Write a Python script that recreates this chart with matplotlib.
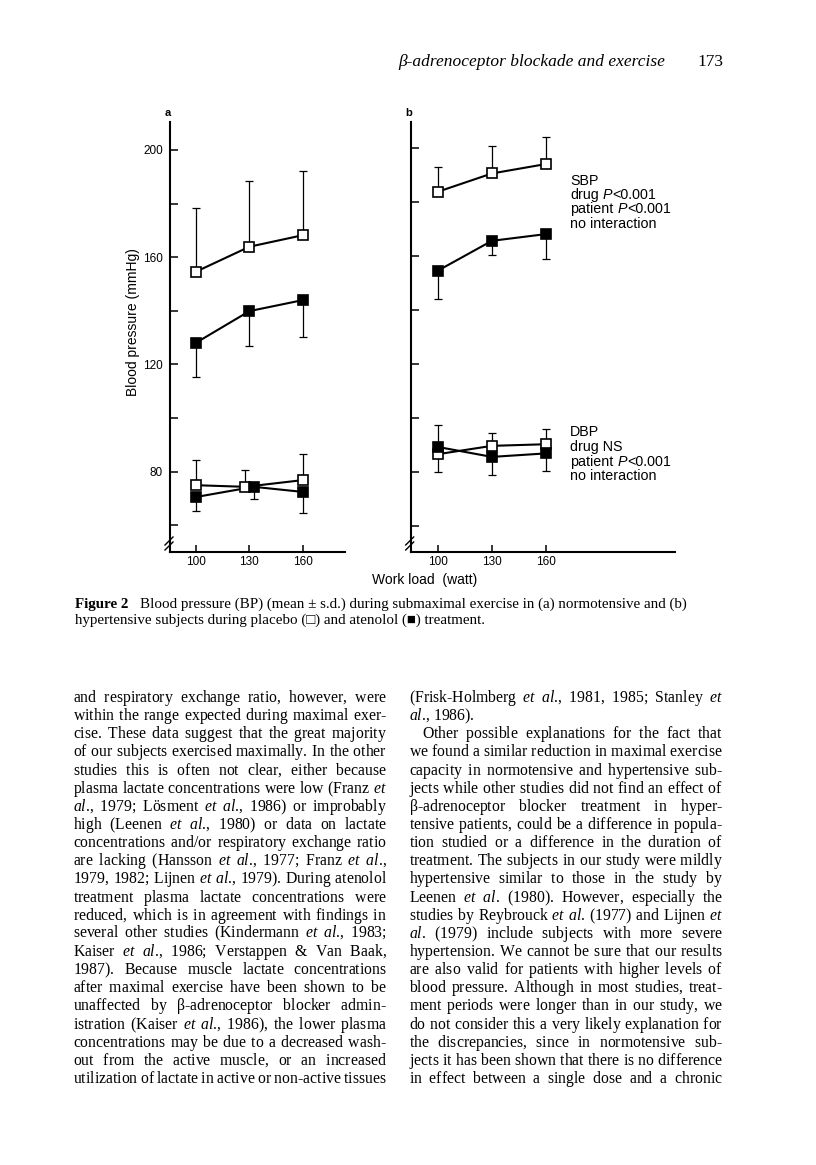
import re
import matplotlib
matplotlib.use("Agg")
import matplotlib.pyplot as plt
from matplotlib.font_manager import FontProperties
from matplotlib.lines import Line2D

plt.rcParams["mathtext.fontset"] = "custom"
plt.rcParams["mathtext.rm"] = "Liberation Serif"
plt.rcParams["mathtext.it"] = "Liberation Serif:italic"
plt.rcParams["mathtext.bf"] = "Liberation Serif:bold"

# ---------------- data ----------------
loads = [100, 130, 160]
zeros = [0, 0, 0]

# panel a: normotensive subjects
a_sbp_placebo = [154.6, 163.9, 168.2]
a_sbp_placebo_sd = [23.9, 24.4, 24.0]
a_sbp_atenolol = [128.1, 139.9, 144.0]
a_sbp_atenolol_sd = [12.7, 13.0, 13.7]
a_dbp_placebo_x = [100, 127.6, 160]
a_dbp_placebo = [75.0, 74.4, 76.9]
a_dbp_placebo_sd = [9.3, 6.2, 9.7]
a_dbp_atenolol_x = [100, 132.4, 160]
a_dbp_atenolol = [70.6, 74.4, 72.5]
a_dbp_atenolol_sd = [5.2, 4.4, 7.7]

# panel b: hypertensive subjects
b_sbp_placebo = [183.9, 190.7, 194.2]
b_sbp_placebo_sd = [9.3, 10.2, 10.1]
b_sbp_atenolol = [154.6, 165.7, 168.2]
b_sbp_atenolol_sd = [10.4, 5.1, 9.3]
b_dbp_placebo = [86.5, 89.6, 90.2]
b_dbp_placebo_sd = [10.9, 4.8, 5.5]
b_dbp_atenolol = [89.2, 85.5, 86.8]
b_dbp_atenolol_sd = [9.4, 6.9, 6.5]

y_ticks = [60, 80, 100, 120, 140, 160, 180, 200]
y_ticklabels_a = ["", "80", "", "120", "", "160", "", "200"]
x_ticklabels = ["100", "130", "160"]

sbp_notes = ["SBP", "drug *P*<0.001", "patient *P*<0.001", "no interaction"]
dbp_notes = ["DBP", "drug NS", "patient *P*<0.001", "no interaction"]

header_title = "β-adrenoceptor blockade and exercise"
page_number = "173"
caption_label = "Figure 2"
caption_line1 = "Blood pressure (BP) (mean ± s.d.) during submaximal exercise in (a) normotensive and (b)"
caption_line2 = "hypertensive subjects during placebo (□) and atenolol (■) treatment."

left_column = [
    "and respiratory exchange ratio, however, were",
    "within the range expected during maximal exer-",
    "cise. These data suggest that the great majority",
    "of our subjects exercised maximally. In the other",
    "studies this is often not clear, either because",
    "plasma lactate concentrations were low (Franz *et*",
    "*al.*, 1979; Lösment *et al.*, 1986) or improbably",
    "high (Leenen *et al.*, 1980) or data on lactate",
    "concentrations and/or respiratory exchange ratio",
    "are lacking (Hansson *et al.*, 1977; Franz *et al.*,",
    "1979, 1982; Lijnen *et al.*, 1979). During atenolol",
    "treatment plasma lactate concentrations were",
    "reduced, which is in agreement with findings in",
    "several other studies (Kindermann *et al.*, 1983;",
    "Kaiser *et al.*, 1986; Verstappen & Van Baak,",
    "1987). Because muscle lactate concentrations",
    "after maximal exercise have been shown to be",
    "unaffected by β-adrenoceptor blocker admin-",
    "istration (Kaiser *et al.*, 1986), the lower plasma",
    "concentrations may be due to a decreased wash-",
    "out from the active muscle, or an increased",
    "utilization of lactate in active or non-active tissues",
]
right_column = [
    "(Frisk-Holmberg *et al.*, 1981, 1985; Stanley *et*",
    "*al.*, 1986).",
    "Other possible explanations for the fact that",
    "we found a similar reduction in maximal exercise",
    "capacity in normotensive and hypertensive sub-",
    "jects while other studies did not find an effect of",
    "β-adrenoceptor blocker treatment in hyper-",
    "tensive patients, could be a difference in popula-",
    "tion studied or a difference in the duration of",
    "treatment. The subjects in our study were mildly",
    "hypertensive similar to those in the study by",
    "Leenen *et al.* (1980). However, especially the",
    "studies by Reybrouck *et al.* (1977) and Lijnen *et*",
    "*al.* (1979) include subjects with more severe",
    "hypertension. We cannot be sure that our results",
    "are also valid for patients with higher levels of",
    "blood pressure. Although in most studies, treat-",
    "ment periods were longer than in our study, we",
    "do not consider this a very likely explanation for",
    "the discrepancies, since in normotensive sub-",
    "jects it has been shown that there is no difference",
    "in effect between a single dose and a chronic",
]
right_unjustified = {1}
right_indented = {2}

# ---------------- figure ----------------
W, H = 816, 1165
fig = plt.figure(figsize=(W / 100, H / 100), dpi=100)
fig.patch.set_facecolor("white")
renderer = fig.canvas.get_renderer()

SANS = ["Liberation Sans", "DejaVu Sans"]
SERIF = ["Liberation Serif", "DejaVu Serif", "DejaVu Sans"]


def fx(x):
    return x / W


def fy(y):
    return 1 - y / H


def fprop(family, size, italic=False, bold=False):
    return FontProperties(family=family, size=size,
                          style="italic" if italic else "normal",
                          weight="bold" if bold else "normal")


def width_of(s, fp, ismath=False):
    w, h, d = renderer.get_text_width_height_descent(s, fp, ismath=ismath)
    return w


def space_width(fp):
    return width_of("a a", fp) - width_of("aa", fp)


def parse_words(line):
    parts = re.split(r"( +)", line.strip())
    raw_words = parts[0::2]
    mults = [len(s) for s in parts[1::2]]
    words = []
    italic = False
    for token in raw_words:
        segs, cur = [], ""
        for ch in token:
            if ch == "*":
                if cur:
                    segs.append((cur, italic))
                cur, italic = "", not italic
                continue
            cur += ch
        if cur:
            segs.append((cur, italic))
        words.append(segs)
    return words, mults


def build(words, gaps):
    pieces = []
    for i, segs in enumerate(words):
        if i > 0:
            pieces.append(("m", r"\hspace{%.4f}" % gaps[i - 1]))
        for t, it in segs:
            if it:
                core, trail = t, ""
                while core and core[-1] in ".,;:":
                    trail = core[-1] + trail
                    core = core[:-1]
                if core:
                    pieces.append(("m", r"\mathit{" + core + "}"))
                if trail:
                    pieces.append(("t", trail))
            else:
                pieces.append(("t", t))
    merged = []
    for k, c in pieces:
        if merged and merged[-1][0] == k:
            merged[-1] = (k, merged[-1][1] + c)
        else:
            merged.append((k, c))
    return "".join("$" + c + "$" if k == "m" else c for k, c in merged)


def draw_body_line(line, x0, baseline, size, x1=None):
    """one text per line; word gaps set with mathtext \\hspace for justification"""
    words, mults = parse_words(line)
    fp = fprop(SERIF, size)
    n = sum(mults)
    if n == 0:
        fig.text(fx(x0), fy(baseline), build(words, []), fontproperties=fp,
                 ha="left", va="baseline")
        return
    w0 = width_of(build(words, [0.0] * len(mults)), fp, True)
    w1 = width_of(build(words, [float(m) for m in mults]), fp, True)
    em = (w1 - w0) / n
    if x1 is not None:
        per = (x1 - x0 - w0) / n / em
    else:
        per = space_width(fp) / em
    fig.text(fx(x0), fy(baseline), build(words, [per * m for m in mults]),
             fontproperties=fp, ha="left", va="baseline")


def draw_runs(line, x, baseline, family, size):
    """plain text runs; *...* marks italic"""
    parts = line.split("*")
    for k, part in enumerate(parts):
        if not part:
            continue
        fp = fprop(family, size, italic=(k % 2 == 1))
        lead = len(part) - len(part.lstrip(" "))
        trail = len(part) - len(part.rstrip(" "))
        core = part.strip(" ")
        x += lead * space_width(fp)
        fig.text(fx(x), fy(baseline), core, fontproperties=fp, ha="left", va="baseline")
        x += width_of(core, fp) + trail * space_width(fp)
    return x


# ---------------- panels ----------------
TICK_FP = fprop(SANS, 8.5)


def make_axes(left, right, top, bottom, xlim, ylim):
    ax = fig.add_axes([fx(left), fy(bottom), (right - left) / W, (bottom - top) / H])
    ax.set_xlim(*xlim)
    ax.set_ylim(*ylim)
    for s in ("top", "right"):
        ax.spines[s].set_visible(False)
    for s in ("left", "bottom"):
        ax.spines[s].set_linewidth(1.5)
    ax.set_xticks(loads)
    ax.set_xticklabels(x_ticklabels, fontproperties=TICK_FP)
    ax.set_yticks(y_ticks)
    ax.tick_params(axis="both", direction="in", width=1.1, colors="black")
    ax.tick_params(axis="y", length=6, pad=5)
    ax.tick_params(axis="x", length=5, pad=3)
    ax.patch.set_alpha(0)
    return ax


def series(ax, x, y, lo, hi, filled):
    ax.errorbar(x, y, yerr=[lo, hi], fmt="none", ecolor="black",
                elinewidth=0.9, capsize=3.2, capthick=0.9, zorder=2, clip_on=False)
    ax.plot(x, y, color="black", lw=1.5, zorder=3, clip_on=False)
    ax.plot(x, y, ls="none", marker="s", ms=7, mfc="black" if filled else "white",
            mec="black", mew=1.2, zorder=4, clip_on=False)


def break_marks(xp, yp):
    for dy in (0, 5):
        fig.add_artist(Line2D([fx(xp - 5), fx(xp + 3)], [fy(yp + 4 + dy), fy(yp - 4 + dy)],
                              color="black", lw=1.0))


ax_a = make_axes(170, 345, 122, 552, (85.4, 183.7), (50.1, 210.4))
ax_a.set_yticklabels(y_ticklabels_a, fontproperties=TICK_FP)
series(ax_a, loads, a_sbp_placebo, zeros, a_sbp_placebo_sd, False)
series(ax_a, loads, a_sbp_atenolol, a_sbp_atenolol_sd, zeros, True)
series(ax_a, a_dbp_placebo_x, a_dbp_placebo, zeros, a_dbp_placebo_sd, False)
series(ax_a, a_dbp_atenolol_x, a_dbp_atenolol, a_dbp_atenolol_sd, zeros, True)

ax_b = make_axes(410.7, 675, 122, 552, (85.0, 231.5), (50.2, 209.8))
ax_b.set_yticklabels([""] * len(y_ticks))
series(ax_b, loads, b_sbp_placebo, zeros, b_sbp_placebo_sd, False)
series(ax_b, loads, b_sbp_atenolol, b_sbp_atenolol_sd, zeros, True)
series(ax_b, loads, b_dbp_placebo, zeros, b_dbp_placebo_sd, False)
series(ax_b, loads, b_dbp_atenolol, b_dbp_atenolol_sd, zeros, True)

break_marks(170, 541)
break_marks(410.7, 541)

fig.text(fx(168), fy(113), "a", fontproperties=fprop(SANS, 8, bold=True), ha="center", va="center")
fig.text(fx(409), fy(113), "b", fontproperties=fprop(SANS, 8, bold=True), ha="center", va="center")

fig.text(fx(133), fy(322), "Blood pressure (mmHg)", fontproperties=fprop(SANS, 10),
         rotation=90, ha="center", va="center")
fig.text(fx(425), fy(580), "Work load  (watt)", fontproperties=fprop(SANS, 10),
         ha="center", va="center")

NOTE_SIZE = 10.3
for i, ln in enumerate(sbp_notes):
    draw_runs(ln, 570, 184.5 + i * 14.4, SANS, NOTE_SIZE)
for i, ln in enumerate(dbp_notes):
    draw_runs(ln, 570, 436.5 + i * 14.6, SANS, NOTE_SIZE)

# ---------------- header ----------------
fig.text(fx(665), fy(66), header_title, fontproperties=fprop(SERIF, 12.5, italic=True),
         ha="right", va="baseline")
fig.text(fx(723), fy(66), page_number, fontproperties=fprop(SERIF, 12.5), ha="right", va="baseline")

# ---------------- caption ----------------
CAP_SIZE = 10.8
fp_cap_b = fprop(SERIF, CAP_SIZE, bold=True)
fig.text(fx(75), fy(608), caption_label, fontproperties=fp_cap_b, ha="left", va="baseline")
fig.text(fx(75 + width_of(caption_label, fp_cap_b) + 3.2 * space_width(fp_cap_b)), fy(608),
         caption_line1, fontproperties=fprop(SERIF, CAP_SIZE), ha="left", va="baseline")
fig.text(fx(75), fy(624), caption_line2, fontproperties=fprop(SERIF, CAP_SIZE),
         ha="left", va="baseline")

# ---------------- body text ----------------
BODY = 11.3
for i, ln in enumerate(left_column):
    draw_body_line(ln, 73, 702 + i * 18.14, BODY, x1=387)
for i, ln in enumerate(right_column):
    x0 = 409 + (13 if i in right_indented else 0)
    draw_body_line(ln, x0, 702 + i * 18.14, BODY,
                   x1=None if i in right_unjustified else 723)

fig.savefig("out.png", dpi=100)
